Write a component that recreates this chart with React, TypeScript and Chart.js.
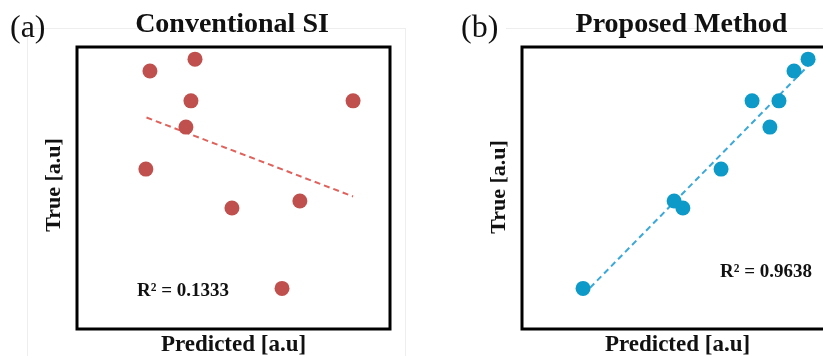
import React, { useEffect, useRef } from "react";
import { Chart, registerables } from "chart.js";

Chart.register(...registerables);

// Shared "True" values (a.u.)
const trueValues = [9.57, 9.15, 8.09, 8.09, 7.16, 5.67, 4.54, 4.29, 1.44];
// Predicted values (a.u.)
const predictedConventional = [3.77, 2.33, 3.64, 8.82, 3.48, 2.2, 7.12, 4.95, 6.55];
const predictedProposed = [9.14, 8.69, 7.35, 8.21, 7.92, 6.36, 4.86, 5.14, 1.95];
// Linear trend line end points
const trendConventionalX = [2.22, 8.82];
const trendConventionalY = [7.5, 4.7];
const trendProposedX = [1.95, 9.14];
const trendProposedY = [1.21, 9.33];

const panelLabels = ["(a)", "(b)"];
const panelTitles = ["Conventional SI", "Proposed Method"];
const xAxisLabel = "Predicted [a.u]";
const yAxisLabel = "True [a.u]";
const r2Labels = ["R\u00b2 = 0.1333", "R\u00b2 = 0.9638"];

const SERIF = '"Liberation Serif", "Times New Roman", serif';

type PanelText = {
  label: string;
  labelX: number;
  title: string;
  titleX: number;
  xLabelX: number;
  yLabelX: number;
  yLabelY: number;
  r2: string;
  r2X: number;
  r2Y: number;
  faint: (ctx: CanvasRenderingContext2D) => void;
};

function makeChart(
  canvas: HTMLCanvasElement,
  xs: number[],
  tx: number[],
  ty: number[],
  dotColor: string,
  lineColor: string,
  padding: { left: number; right: number; top: number; bottom: number },
  text: PanelText
) {
  const points = xs.map((x, i) => ({ x, y: trueValues[i] }));
  const trend = tx.map((x, i) => ({ x, y: ty[i] }));
  const deco = {
    id: "deco",
    beforeDraw(chart: any) {
      const ctx = chart.ctx as CanvasRenderingContext2D;
      ctx.save();
      ctx.fillStyle = "#ffffff";
      ctx.fillRect(0, 0, chart.width, chart.height);
      text.faint(ctx);
      ctx.restore();
    },
    afterDraw(chart: any) {
      const ctx = chart.ctx as CanvasRenderingContext2D;
      const a = chart.chartArea;
      ctx.save();
      ctx.strokeStyle = "#000000";
      ctx.lineWidth = 3;
      ctx.strokeRect(a.left, a.top, a.right - a.left, a.bottom - a.top);
      ctx.fillStyle = "#111111";
      ctx.textBaseline = "alphabetic";
      ctx.font = `32px ${SERIF}`;
      ctx.textAlign = "left";
      ctx.fillText(text.label, text.labelX, 37);
      ctx.font = `bold 28px ${SERIF}`;
      ctx.textAlign = "center";
      ctx.fillText(text.title, text.titleX, 32);
      ctx.font = `bold 23px ${SERIF}`;
      ctx.fillText(xAxisLabel, text.xLabelX, 351);
      ctx.save();
      ctx.translate(text.yLabelX, text.yLabelY);
      ctx.rotate(-Math.PI / 2);
      ctx.font = `bold 22px ${SERIF}`;
      ctx.fillText(yAxisLabel, 0, 0);
      ctx.restore();
      ctx.font = `bold 19px ${SERIF}`;
      ctx.textAlign = "left";
      ctx.fillText(text.r2, text.r2X, text.r2Y);
      ctx.restore();
    },
  };
  return new Chart(canvas, {
    type: "scatter",
    data: {
      datasets: [
        {
          type: "line",
          data: trend,
          borderColor: lineColor,
          borderWidth: 2,
          borderDash: [6, 4],
          pointRadius: 0,
          fill: false,
          order: 2,
        } as any,
        {
          type: "scatter",
          data: points,
          backgroundColor: dotColor,
          borderColor: dotColor,
          pointRadius: 7.5,
          borderWidth: 0,
          order: 1,
          clip: false,
        } as any,
      ],
    },
    options: {
      responsive: false,
      animation: false,
      devicePixelRatio: 1,
      layout: { padding },
      scales: {
        x: { type: "linear", min: 0, max: 10, display: false },
        y: { type: "linear", min: 0, max: 10, display: false },
      },
      plugins: {
        legend: { display: false },
        tooltip: { enabled: false },
        title: { display: false },
      },
    },
    plugins: [deco],
  });
}

export default function App() {
  const refA = useRef<HTMLCanvasElement>(null);
  const refB = useRef<HTMLCanvasElement>(null);

  useEffect(() => {
    const chartA = makeChart(
      refA.current!,
      predictedConventional,
      trendConventionalX,
      trendConventionalY,
      "#C0504D",
      "#E0625C",
      { left: 77, right: 21, top: 47, bottom: 27 },
      {
        label: panelLabels[0],
        labelX: 10,
        title: panelTitles[0],
        titleX: 232,
        xLabelX: 233.5,
        yLabelX: 60,
        yLabelY: 185,
        r2: r2Labels[0],
        r2X: 137,
        r2Y: 296,
        faint: (ctx) => {
          ctx.strokeStyle = "#eeeeee";
          ctx.lineWidth = 1;
          ctx.strokeRect(27.5, 28.5, 378, 340);
        },
      }
    );
    const chartB = makeChart(
      refB.current!,
      predictedProposed,
      trendProposedX,
      trendProposedY,
      "#0E9AC8",
      "#3AA8D8",
      { left: 111, right: 16, top: 47, bottom: 27 },
      {
        label: panelLabels[1],
        labelX: 50,
        title: panelTitles[1],
        titleX: 270.5,
        xLabelX: 266.5,
        yLabelX: 94,
        yLabelY: 187,
        r2: r2Labels[1],
        r2X: 309,
        r2Y: 277,
        faint: (ctx) => {
          ctx.strokeStyle = "#eeeeee";
          ctx.lineWidth = 1;
          ctx.beginPath();
          ctx.moveTo(95, 28.5);
          ctx.lineTo(440, 28.5);
          ctx.stroke();
        },
      }
    );
    return () => {
      chartA.destroy();
      chartB.destroy();
    };
  }, []);

  return (
    <div
      style={{
        position: "fixed",
        left: 0,
        top: 0,
        width: 823,
        height: 356,
        overflow: "hidden",
        background: "#ffffff",
      }}
    >
      <canvas
        ref={refA}
        width={411}
        height={356}
        style={{ position: "absolute", left: 0, top: 0, width: 411, height: 356 }}
      />
      <canvas
        ref={refB}
        width={440}
        height={356}
        style={{ position: "absolute", left: 411, top: 0, width: 440, height: 356 }}
      />
    </div>
  );
}
